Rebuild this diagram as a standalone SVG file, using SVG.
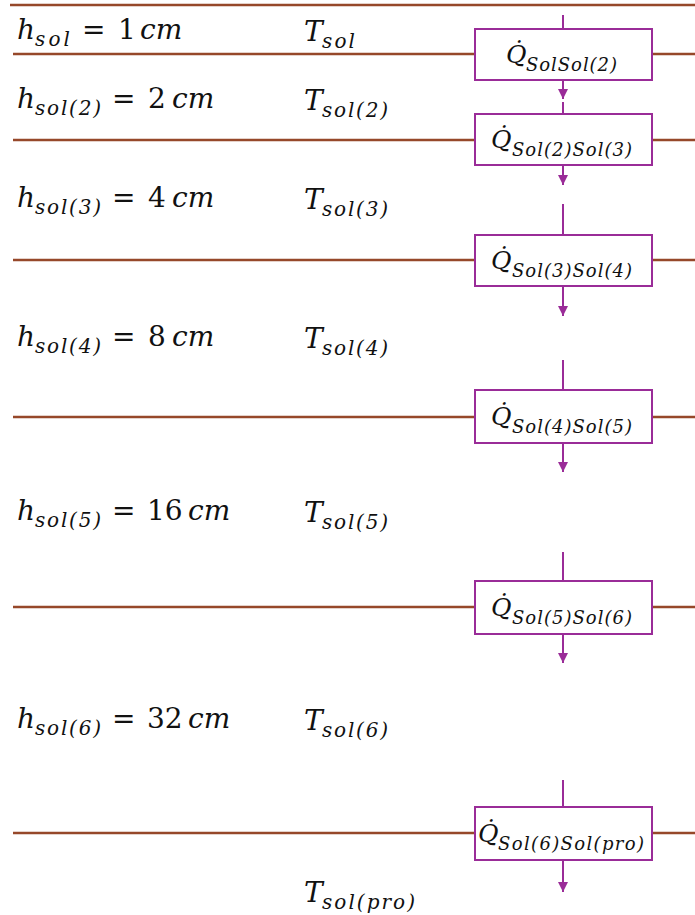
<svg xmlns="http://www.w3.org/2000/svg" width="695" height="915" viewBox="0 0 695 915">
<defs>
<style>
.layer{stroke:#96482a;stroke-width:2.5;fill:none}
.conn{stroke:#9a2c98;stroke-width:2;fill:none}
.box{fill:#ffffff;stroke:#9a2c98;stroke-width:2}
text{font-family:'DejaVu Serif','Liberation Serif',serif;fill:#111;font-style:italic}
.m{font-size:28px}
.s{font-size:20px}
.up{font-style:normal}
.eq{font-style:normal;font-size:28px}
.q{font-size:25px}
.qs{font-size:18px}
</style>
<marker id="ah" viewBox="0 0 10 10" refX="10" refY="5" markerWidth="10" markerHeight="10" markerUnits="userSpaceOnUse" orient="auto">
<path d="M0,0 L10,5 L0,10 Z" fill="#9a2c98"/>
</marker>
</defs>
<rect width="695" height="915" fill="#ffffff"/>
<g id="layers">
<line class="layer" x1="10" y1="5" x2="695" y2="5"/>
<line class="layer" x1="13" y1="54" x2="695" y2="54"/>
<line class="layer" x1="13" y1="140" x2="695" y2="140"/>
<line class="layer" x1="13" y1="260" x2="695" y2="260"/>
<line class="layer" x1="13" y1="417" x2="695" y2="417"/>
<line class="layer" x1="13" y1="607" x2="695" y2="607"/>
<line class="layer" x1="13" y1="833" x2="695" y2="833"/>
</g>
<g id="labels">
<text class="m" y="39"><tspan x="17">h</tspan><tspan class="s" x="35" y="46" textLength="35">sol</tspan><tspan class="eq" x="82" y="39">=</tspan><tspan class="up" x="118" y="39">1</tspan><tspan x="140" y="39">cm</tspan></text>
<text class="m" y="108"><tspan x="17">h</tspan><tspan class="s" x="35" y="115" textLength="66">sol(2)</tspan><tspan class="eq" x="112" y="108">=</tspan><tspan class="up" x="148" y="108">2</tspan><tspan x="172" y="108">cm</tspan></text>
<text class="m" y="207"><tspan x="17">h</tspan><tspan class="s" x="35" y="214" textLength="66">sol(3)</tspan><tspan class="eq" x="112" y="207">=</tspan><tspan class="up" x="148" y="207">4</tspan><tspan x="172" y="207">cm</tspan></text>
<text class="m" y="346"><tspan x="17">h</tspan><tspan class="s" x="35" y="353" textLength="66">sol(4)</tspan><tspan class="eq" x="112" y="346">=</tspan><tspan class="up" x="148" y="346">8</tspan><tspan x="172" y="346">cm</tspan></text>
<text class="m" y="520"><tspan x="17">h</tspan><tspan class="s" x="35" y="527" textLength="66">sol(5)</tspan><tspan class="eq" x="112" y="520">=</tspan><tspan class="up" x="147" y="520">16</tspan><tspan x="188" y="520">cm</tspan></text>
<text class="m" y="728"><tspan x="17">h</tspan><tspan class="s" x="35" y="735" textLength="66">sol(6)</tspan><tspan class="eq" x="112" y="728">=</tspan><tspan class="up" x="147" y="728">32</tspan><tspan x="188" y="728">cm</tspan></text>
<text class="m" y="41"><tspan x="304">T</tspan><tspan class="s" x="322" y="48" textLength="33">sol</tspan></text>
<text class="m" y="110"><tspan x="304">T</tspan><tspan class="s" x="322" y="117" textLength="66">sol(2)</tspan></text>
<text class="m" y="209"><tspan x="304">T</tspan><tspan class="s" x="322" y="216" textLength="66">sol(3)</tspan></text>
<text class="m" y="348"><tspan x="304">T</tspan><tspan class="s" x="322" y="355" textLength="66">sol(4)</tspan></text>
<text class="m" y="522"><tspan x="304">T</tspan><tspan class="s" x="322" y="529" textLength="66">sol(5)</tspan></text>
<text class="m" y="730"><tspan x="304">T</tspan><tspan class="s" x="322" y="737" textLength="66">sol(6)</tspan></text>
<text class="m" y="902"><tspan x="304">T</tspan><tspan class="s" x="322" y="909" textLength="93">sol(pro)</tspan></text>
</g>
<g id="connectors">
<line class="conn" x1="563" y1="15" x2="563" y2="29"/>
<line class="conn" x1="563" y1="80" x2="563" y2="99" marker-end="url(#ah)"/>
<line class="conn" x1="563" y1="102" x2="563" y2="114"/>
<line class="conn" x1="563" y1="165" x2="563" y2="185" marker-end="url(#ah)"/>
<line class="conn" x1="563" y1="204" x2="563" y2="235"/>
<line class="conn" x1="563" y1="286" x2="563" y2="316" marker-end="url(#ah)"/>
<line class="conn" x1="563" y1="360" x2="563" y2="390"/>
<line class="conn" x1="563" y1="443" x2="563" y2="472" marker-end="url(#ah)"/>
<line class="conn" x1="563" y1="552" x2="563" y2="581"/>
<line class="conn" x1="563" y1="634" x2="563" y2="663" marker-end="url(#ah)"/>
<line class="conn" x1="563" y1="780" x2="563" y2="807"/>
<line class="conn" x1="563" y1="860" x2="563" y2="892" marker-end="url(#ah)"/>
</g>
<g id="q1"><rect class="box" x="475" y="29" width="177" height="51"/><text class="q" y="63"><tspan x="506">Q̇</tspan><tspan class="qs" x="526" y="71" textLength="91">SolSol(2)</tspan></text></g>
<g id="q2"><rect class="box" x="475" y="114" width="177" height="51"/><text class="q" y="148"><tspan x="491">Q̇</tspan><tspan class="qs" x="512" y="156" textLength="120">Sol(2)Sol(3)</tspan></text></g>
<g id="q3"><rect class="box" x="475" y="235" width="177" height="51"/><text class="q" y="269"><tspan x="491">Q̇</tspan><tspan class="qs" x="512" y="277" textLength="120">Sol(3)Sol(4)</tspan></text></g>
<g id="q4"><rect class="box" x="475" y="390" width="177" height="53"/><text class="q" y="425"><tspan x="491">Q̇</tspan><tspan class="qs" x="512" y="433" textLength="120">Sol(4)Sol(5)</tspan></text></g>
<g id="q5"><rect class="box" x="475" y="581" width="177" height="53"/><text class="q" y="616"><tspan x="491">Q̇</tspan><tspan class="qs" x="512" y="624" textLength="120">Sol(5)Sol(6)</tspan></text></g>
<g id="q6"><rect class="box" x="475" y="807" width="177" height="53"/><text class="q" y="842"><tspan x="478">Q̇</tspan><tspan class="qs" x="498" y="850" textLength="146">Sol(6)Sol(pro)</tspan></text></g>
</svg>
